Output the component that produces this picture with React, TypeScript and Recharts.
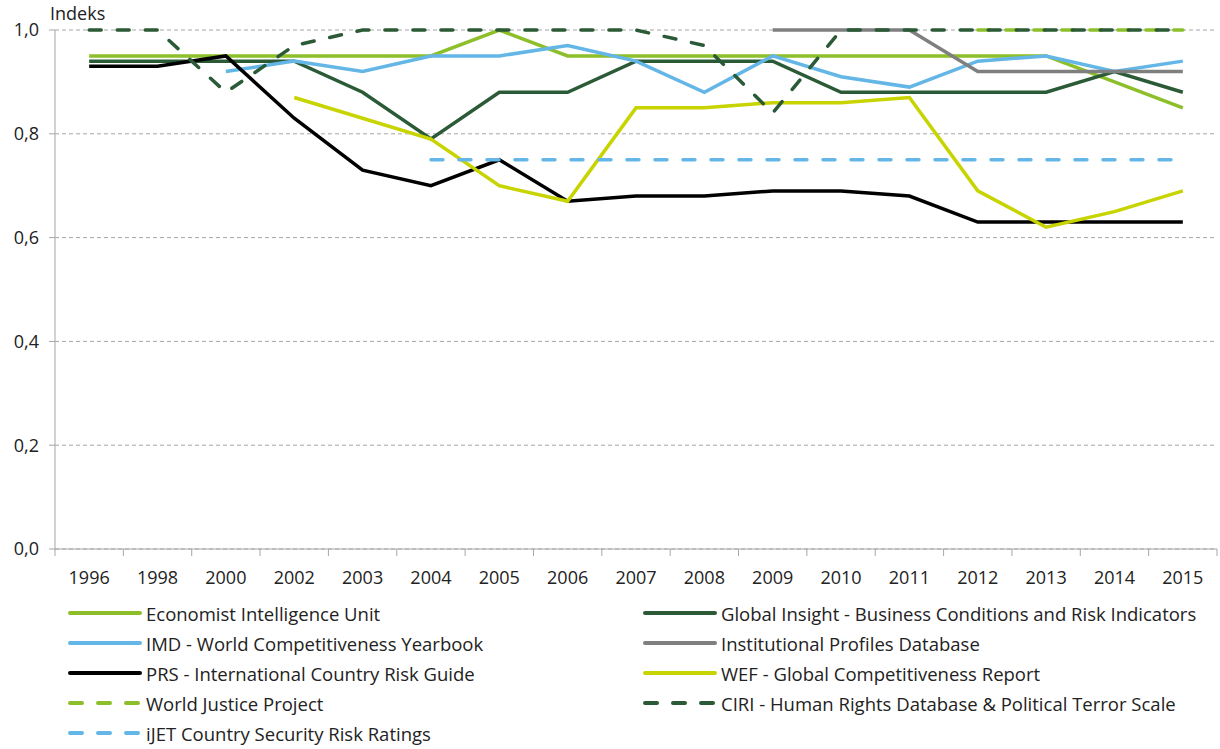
import { CartesianGrid, Line, LineChart, XAxis, YAxis } from "recharts";

const years = ["1996", "1998", "2000", "2002", "2003", "2004", "2005", "2006", "2007", "2008", "2009", "2010", "2011", "2012", "2013", "2014", "2015"];

const eiu = [0.95, 0.95, 0.95, 0.95, 0.95, 0.95, 1.0, 0.95, 0.95, 0.95, 0.95, 0.95, 0.95, 0.95, 0.95, 0.9, 0.85];
const globalInsight = [0.94, 0.94, 0.94, 0.94, 0.88, 0.79, 0.88, 0.88, 0.94, 0.94, 0.94, 0.88, 0.88, 0.88, 0.88, 0.92, 0.88];
const imd = [null, null, 0.92, 0.94, 0.92, 0.95, 0.95, 0.97, 0.94, 0.88, 0.95, 0.91, 0.89, 0.94, 0.95, 0.92, 0.94];
const ipd = [null, null, null, null, null, null, null, null, null, null, 1.0, 1.0, 1.0, 0.92, 0.92, 0.92, 0.92];
const prs = [0.93, 0.93, 0.95, 0.83, 0.73, 0.7, 0.75, 0.67, 0.68, 0.68, 0.69, 0.69, 0.68, 0.63, 0.63, 0.63, 0.63];
const wef = [null, null, null, 0.87, 0.83, 0.79, 0.7, 0.67, 0.85, 0.85, 0.86, 0.86, 0.87, 0.69, 0.62, 0.65, 0.69];
const wjp = [null, null, null, null, null, null, null, null, null, null, null, null, null, 1.0, 1.0, 1.0, 1.0];
const ciri = [1.0, 1.0, 0.88, 0.97, 1.0, 1.0, 1.0, 1.0, 1.0, 0.97, 0.84, 1.0, 1.0, 1.0, 1.0, 1.0, 1.0];
const ijet = [null, null, null, null, null, 0.75, 0.75, 0.75, 0.75, 0.75, 0.75, 0.75, 0.75, 0.75, 0.75, 0.75, 0.75];

const yTicks = [0, 0.2, 0.4, 0.6, 0.8, 1.0];

const series = [
  { key: "eiu", name: "Economist Intelligence Unit", color: "#8cbf2a", dashed: false, values: eiu },
  { key: "gi", name: "Global Insight - Business Conditions and Risk Indicators", color: "#2b5a36", dashed: false, values: globalInsight },
  { key: "imd", name: "IMD - World Competitiveness Yearbook", color: "#63b6e6", dashed: false, values: imd },
  { key: "ipd", name: "Institutional Profiles Database", color: "#7f7f7f", dashed: false, values: ipd },
  { key: "prs", name: "PRS - International Country Risk Guide", color: "#000000", dashed: false, values: prs },
  { key: "wef", name: "WEF - Global Competitiveness Report", color: "#c8d400", dashed: false, values: wef },
  { key: "wjp", name: "World Justice Project", color: "#8cbf2a", dashed: true, values: wjp },
  { key: "ciri", name: "CIRI - Human Rights Database & Political Terror Scale", color: "#2b5a36", dashed: true, values: ciri },
  { key: "ijet", name: "iJET Country Security Risk Ratings", color: "#63b6e6", dashed: true, values: ijet },
];

const data = years.map((year, i) => {
  const row: Record<string, string | number | null> = { year };
  series.forEach((s) => {
    row[s.key] = s.values[i];
  });
  return row;
});

const FONT = "'Open Sans', sans-serif";
const TEXT = "#222";
const AXIS = "#a6a6a6";
const CHART_W = 1220;
const MARGIN_RIGHT = 3;
const Y_W = 55;
const BAND = (CHART_W - MARGIN_RIGHT - Y_W) / years.length;

function YearTick(props: any) {
  const { x, y, payload, index } = props;
  const top = y - 14;
  return (
    <g>
      <line x1={x - BAND / 2} x2={x - BAND / 2} y1={top} y2={top + 7} stroke={AXIS} />
      {index === years.length - 1 && <line x1={x + BAND / 2} x2={x + BAND / 2} y1={top} y2={top + 7} stroke={AXIS} />}
      <text x={x} y={top + 35} textAnchor="middle" fill={TEXT} fontSize={18} fontFamily={FONT}>
        {payload.value}
      </text>
    </g>
  );
}

function LegendRow({ s }: { s: (typeof series)[number] }) {
  return (
    <div style={{ display: "flex", alignItems: "center", height: 30 }}>
      <svg width={74} height={10} style={{ marginRight: 4 }}>
        <line x1={2} x2={72} y1={5} y2={5} stroke={s.color} strokeWidth={4} strokeLinecap="round" strokeDasharray={s.dashed ? "12 16" : undefined} />
      </svg>
      <span style={{ fontSize: 18.5, color: TEXT, fontFamily: FONT, whiteSpace: "nowrap" }}>{s.name}</span>
    </div>
  );
}

export default function App() {
  return (
    <div style={{ position: "absolute", left: 0, top: 0, width: 1220, height: 749, background: "#fff", fontFamily: FONT }}>
      <div style={{ position: "absolute", left: 50, top: 1, fontSize: 18, color: TEXT }}>Indeks</div>
      <LineChart width={CHART_W} height={600} data={data} margin={{ top: 30, right: MARGIN_RIGHT, left: 0, bottom: 0 }}>
        <CartesianGrid horizontal vertical={false} stroke={AXIS} strokeDasharray="4 3" />
        <XAxis
          dataKey="year"
          scale="band"
          height={51}
          axisLine={{ stroke: AXIS }}
          tickLine={false}
          tickSize={6}
          tickMargin={8}
          interval={0}
          tick={<YearTick />}
        />
        <YAxis
          width={Y_W}
          domain={[0, 1]}
          ticks={yTicks}
          interval={0}
          axisLine={{ stroke: AXIS }}
          tickLine={{ stroke: AXIS }}
          tickSize={6}
          tickMargin={10}
          tick={{ fill: TEXT, fontSize: 18, fontFamily: FONT }}
          tickFormatter={(v: number) => v.toFixed(1).replace(".", ",")}
        />
        {series.map((s) => (
          <Line
            key={s.key}
            dataKey={s.key}
            name={s.name}
            type="linear"
            stroke={s.color}
            strokeWidth={3.5}
            strokeDasharray={s.dashed ? "12 16" : undefined}
            strokeLinecap={s.dashed ? "round" : "butt"}
            dot={false}
            activeDot={false}
            connectNulls={false}
            isAnimationActive={false}
          />
        ))}
      </LineChart>
      <div style={{ position: "absolute", left: 68, top: 598 }}>
        {series.filter((_, i) => i % 2 === 0).map((s) => (
          <LegendRow key={s.key} s={s} />
        ))}
      </div>
      <div style={{ position: "absolute", left: 643, top: 598 }}>
        {series.filter((_, i) => i % 2 === 1).map((s) => (
          <LegendRow key={s.key} s={s} />
        ))}
      </div>
    </div>
  );
}
